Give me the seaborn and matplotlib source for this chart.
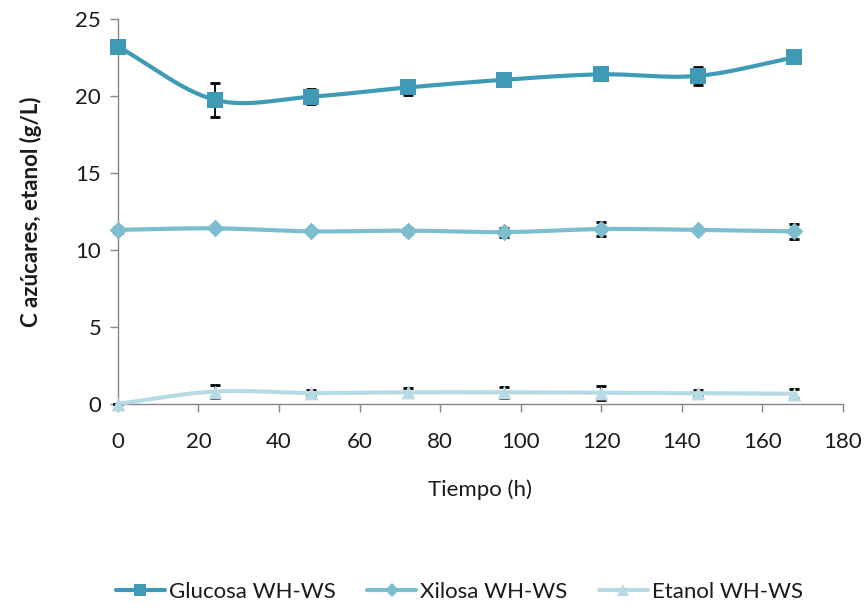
import numpy as np
import matplotlib
matplotlib.use("Agg")
import matplotlib.pyplot as plt
import pandas as pd
import seaborn as sns
from matplotlib.lines import Line2D

# data
tiempo = [0, 24, 48, 72, 96, 120, 144, 168]
glucosa = [23.2, 19.75, 19.95, 20.55, 21.05, 21.4, 21.3, 22.5]
glucosa_err = [0.0, 1.1, 0.5, 0.5, 0.3, 0.2, 0.6, 0.0]
xilosa = [11.3, 11.4, 11.2, 11.25, 11.15, 11.35, 11.3, 11.2]
xilosa_err = [0.2, 0.1, 0.0, 0.2, 0.3, 0.45, 0.1, 0.5]
etanol = [0.0, 0.8, 0.7, 0.75, 0.75, 0.72, 0.68, 0.66]
etanol_err = [0.0, 0.4, 0.2, 0.3, 0.35, 0.45, 0.2, 0.3]

series = ["Glucosa WH-WS", "Xilosa WH-WS", "Etanol WH-WS"]
colores = ["#3f9bb5", "#7dbdd0", "#b8dae4"]
marcadores = ["s", "D", "^"]
tamanos = [11, 9, 10]


def suavizar(x, y, n=30):
    # Catmull-Rom curve through the points (like Excel's smoothed line)
    x = np.asarray(x, float)
    y = np.asarray(y, float)
    px = np.concatenate([[2 * x[0] - x[1]], x, [2 * x[-1] - x[-2]]])
    py = np.concatenate([[2 * y[0] - y[1]], y, [2 * y[-1] - y[-2]]])
    xs, ys = [], []
    t = np.linspace(0, 1, n)
    for i in range(1, len(px) - 2):
        for p, out in ((px, xs), (py, ys)):
            p0, p1, p2, p3 = p[i - 1], p[i], p[i + 1], p[i + 2]
            out.extend(0.5 * (2 * p1 + (-p0 + p2) * t
                              + (2 * p0 - 5 * p1 + 4 * p2 - p3) * t ** 2
                              + (-p0 + 3 * p1 - 3 * p2 + p3) * t ** 3))
    return np.array(xs), np.array(ys)


sns.set_style("white")
plt.rcParams['font.family'] = ['Lato', 'DejaVu Sans']
fs = 16

fig = plt.figure(figsize=(8.67, 6.1), dpi=100)
ax = fig.add_axes([0.136, 0.338, 0.836, 0.631])

valores = [glucosa, xilosa, etanol]
errores = [glucosa_err, xilosa_err, etanol_err]
for nombre, y, e, c, m, s in zip(series, valores, errores, colores, marcadores, tamanos):
    df = pd.DataFrame({"t": tiempo, "v": y})
    ax.errorbar(tiempo, y, yerr=e, fmt="none", ecolor="black", elinewidth=1.3,
                capsize=3.5, capthick=2, zorder=2)
    xs, ys = suavizar(tiempo, y)
    ax.plot(xs, ys, color=c, lw=3, zorder=3, solid_capstyle="round")
    sns.scatterplot(data=df, x="t", y="v", ax=ax, marker=m, s=s ** 2, color=c,
                    edgecolor=c, linewidth=0, zorder=4, legend=False)

ax.set_xlim(0, 180)
ax.set_ylim(0, 25)
ax.set_xticks(range(0, 181, 20))
ax.set_yticks(range(0, 26, 5))
ax.set_xlabel("Tiempo (h)", fontsize=fs, labelpad=20, color="#1a1a1a")
ax.set_ylabel("C azúcares, etanol (g/L)", fontsize=fs, fontweight="bold",
              labelpad=24, color="#1a1a1a")
ax.tick_params(axis="both", labelsize=fs, direction="out", length=6, width=1,
               color="#868686", labelcolor="#1a1a1a", left=True, bottom=True)
ax.tick_params(axis="x", pad=14)
ax.tick_params(axis="y", pad=6)
for lado in ["top", "right"]:
    ax.spines[lado].set_visible(False)
for lado in ["left", "bottom"]:
    ax.spines[lado].set_color("#868686")
    ax.spines[lado].set_linewidth(1)
for coll in ax.collections:
    coll.set_clip_on(False)
for ln in ax.lines:
    ln.set_clip_on(False)

handles = [Line2D([0], [0], color=c, lw=3, marker=m, markersize=s * 0.8,
                  markeredgewidth=0)
           for c, m, s in zip(colores, marcadores, tamanos)]
fig.legend(handles, series, loc="center", bbox_to_anchor=(0.53, 0.03), ncol=3,
           frameon=False, fontsize=fs, handlelength=2.2, handletextpad=0.2,
           columnspacing=1.4, labelcolor="#1a1a1a")

fig.savefig("out.png", dpi=100)
